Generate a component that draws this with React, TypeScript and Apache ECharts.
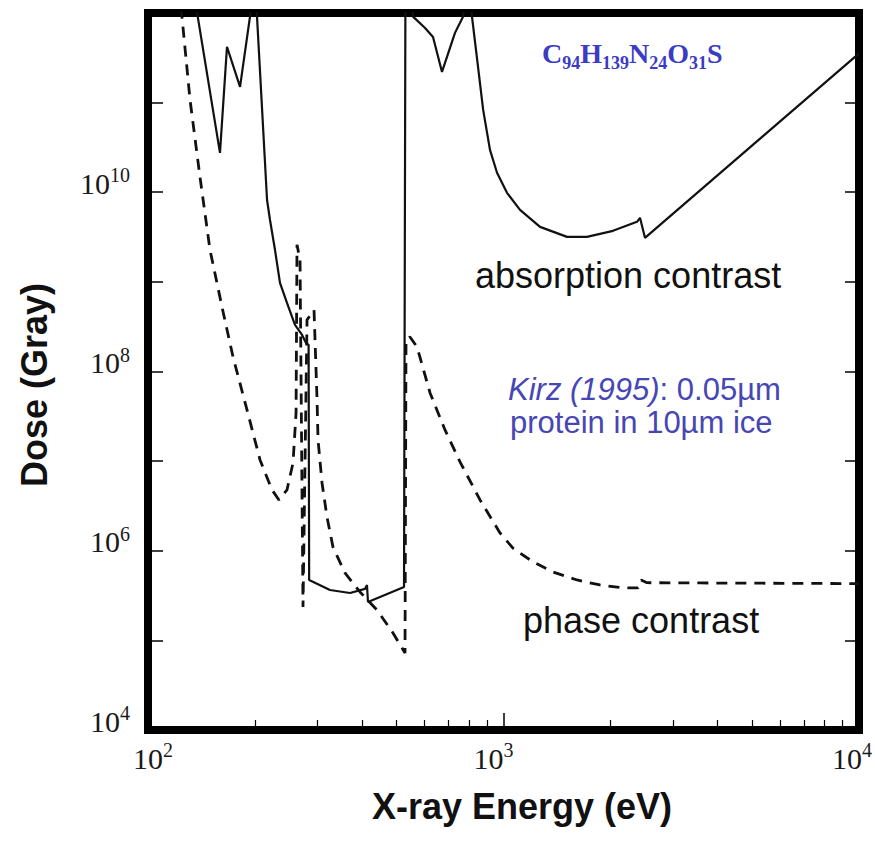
import React, { useEffect, useRef } from 'react';
import * as echarts from 'echarts';

// X-ray energy (eV) and dose (Gray)
const absorptionEnergy = [
  131, 138, 159.4, 166.8, 181.5, 193.6, 197, 200, 202.6, 216.2, 220.4, 227.6, 235.1, 246.0,
  259.1, 271.3, 278.3, 283, 284, 325, 370, 407.7, 413, 415.7, 525, 530, 545, 556.6, 601.6,
  633.5, 671.4, 730.4, 769.3, 790, 800, 815.4, 847.9, 876.6, 916.2, 958.9, 1023, 1113, 1267,
  1509, 1717, 2032, 2374, 2421, 2500, 9743, 10000,
];
const absorptionDose = [
  3.0e12, 9.1e11, 2.75e10, 4.2e11, 1.5e11, 9.1e11, 3.0e12, 3.0e12, 9.1e11, 8.2e9, 4.9e9, 2.28e9, 9.75e8, 5.83e8,
  3.31e8, 2.56e8, 2.08e8, 1.98e8, 4.72e5, 3.65e5, 3.38e5, 3.75e5, 4.15e5, 2.68e5, 3.94e5, 3.0e12, 3.0e12, 9.1e11, 6.8e11,
  5.4e11, 2.2e11, 6.0e11, 9.1e11, 3.0e12, 3.0e12, 9.1e11, 2.51e11, 8.3e10, 2.97e10, 1.65e10, 9.85e9, 6.36e9, 4.11e9,
  3.18e9, 3.18e9, 3.71e9, 4.68e9, 5.18e9, 3.10e9, 3.24e11, 3.5e11,
];

const phaseEnergy = [
  119, 124.6, 131.3, 140.0, 149.4, 161.5, 173.4, 189.9, 206.6, 223.3, 233.6, 246.0, 255.8, 260.9,
  262.5, 267.7, 272.9, 280.1, 293.1, 298.9, 300.8, 308.7, 318.8, 331.4, 358.2, 394.8, 440.8, 488.9,
  528.4, 531.8, 545.8, 571.1, 621.4, 684.6, 754.6, 859.0, 977.6, 1063, 1211, 1378, 1610, 1868, 2168,
  2389, 2437, 2533, 3570, 10000,
];
const phaseDose = [
  3.0e12, 9.1e11, 1.07e11, 1.49e10, 2.28e9, 5.26e8, 1.46e8, 3.73e7, 1.03e7, 4.77e6, 3.69e6, 4.77e6, 9.55e6, 3.45e7,
  2.59e9, 1.76e9, 2.36e5, 3.77e8, 4.87e8, 4.82e7, 1.73e7, 5.71e6, 2.38e6, 1.10e6, 5.65e5, 3.47e5, 2.18e5, 1.21e5,
  7.23e4, 2.25e8, 2.43e8, 1.88e8, 5.77e7, 2.23e7, 9.8e6, 3.69e6, 1.58e6, 1.07e6, 7.5e5, 5.8e5, 4.72e5, 4.15e5, 3.85e5,
  3.85e5, 4.72e5, 4.4e5, 4.37e5, 4.3e5,
];

const xMinorTicks = [200, 300, 400, 500, 600, 700, 800, 900, 2000, 3000, 4000, 5000, 6000, 7000, 8000, 9000];
const yLabelExponents = [4, 6, 8, 10];

const xTitle = 'X-ray Energy (eV)';
const yTitle = 'Dose (Gray)';
const absorptionLabel = 'absorption contrast';
const phaseLabel = 'phase contrast';
const noteLine1Italic = 'Kirz (1995)';
const noteLine1Rest = ': 0.05µm';
const noteLine2 = 'protein in 10µm ice';
const formulaParts: [string, string][] = [['C', '94'], ['H', '139'], ['N', '24'], ['O', '31'], ['S', '']];

const SERIF = 'Liberation Serif';
const SANS = 'Liberation Sans';
const BLUE = '#3b3bc4';
const NOTE_BLUE = '#4646b4';

const supRich = {
  b: { fontFamily: SERIF, fontSize: 30, lineHeight: 30, color: '#1a1a1a', verticalAlign: 'top', padding: [3, 0, 0, 0] },
  s: { fontFamily: SERIF, fontSize: 20, lineHeight: 20, color: '#1a1a1a', verticalAlign: 'top' },
  l10: { fontSize: 10, width: 10, lineHeight: 20, verticalAlign: 'top' },
  r20: { fontSize: 10, width: 20, lineHeight: 20, verticalAlign: 'top' },
  r14: { fontSize: 10, width: 14, lineHeight: 20, verticalAlign: 'top' },
};

export default function App() {
  const ref = useRef<HTMLDivElement>(null);
  useEffect(() => {
    if (!ref.current) return;
    const chart = echarts.init(ref.current, undefined, { renderer: 'svg' });
    const formulaText = formulaParts.map(([el, sub]) => `{b|${el}}` + (sub ? `{s|${sub}}` : '')).join('');
    const option: any = {
      animation: false,
      backgroundColor: '#ffffff',
      grid: {
        left: 148, right: 16, top: 13, bottom: 111,
        outerBoundsMode: 'none', containLabel: false,
        show: true, borderColor: '#000', borderWidth: 8, backgroundColor: 'transparent',
      },
      xAxis: [
        {
          type: 'log', logBase: 10, min: 100, max: 10000, position: 'bottom',
          axisLine: { show: false },
          axisTick: { show: true, inside: true, length: 17, lineStyle: { color: '#000', width: 1.5 } },
          splitLine: { show: false },
          axisLabel: {
            show: true, margin: 10, interval: 0, hideOverlap: false,
            formatter: (v: number) => {
              const e = Math.round(Math.log10(v));
              if (e === 2) return `{l10| }{b|10}{s|${e}}`;
              if (e === 3) return `{b|10}{s|${e}}{r20| }`;
              if (e === 4) return `{b|10}{s|${e}}{r14| }`;
              return '';
            },
            rich: supRich,
          },
          name: xTitle, nameLocation: 'middle', nameGap: 58,
          nameTextStyle: { fontFamily: SANS, fontWeight: 'bold', fontSize: 36, color: '#111', padding: [0, 0, 0, 37] },
        },
        {
          type: 'log', logBase: 10, min: 100, max: 10000, position: 'bottom',
          axisLine: { show: false },
          axisTick: { show: true, inside: true, length: 10, customValues: xMinorTicks, lineStyle: { color: '#000', width: 1.2 } },
          axisLabel: { show: false },
          splitLine: { show: false },
        },
      ],
      yAxis: [
        {
          type: 'log', logBase: 10, min: 1e4, max: 1e12, position: 'left',
          axisLine: { show: false },
          axisTick: { show: true, inside: true, length: 15, lineStyle: { color: '#000', width: 1.5 } },
          splitLine: { show: false },
          axisLabel: {
            show: true, margin: 18, interval: 0, hideOverlap: false, padding: [0, 0, 24, 0],
            formatter: (v: number) => {
              const e = Math.round(Math.log10(v));
              return yLabelExponents.includes(e) ? `{b|10}{s|${e}}` : '';
            },
            rich: supRich,
          },
          name: yTitle, nameLocation: 'middle', nameGap: 96,
          nameTextStyle: { fontFamily: SANS, fontWeight: 'bold', fontSize: 36, color: '#111', padding: [0, 27, 0, 0] },
        },
        {
          type: 'log', logBase: 10, min: 1e4, max: 1e12, position: 'right',
          axisLine: { show: false },
          axisTick: { show: true, inside: true, length: 14, lineStyle: { color: '#000', width: 1.5 } },
          axisLabel: { show: false },
          splitLine: { show: false },
        },
      ],
      series: [
        {
          name: absorptionLabel, type: 'line', xAxisIndex: 0, yAxisIndex: 0,
          data: absorptionEnergy.map((e, i) => [e, absorptionDose[i]]),
          showSymbol: false, symbol: 'none', clip: true,
          lineStyle: { color: '#111', width: 2.2, type: 'solid' },
        },
        {
          name: phaseLabel, type: 'line', xAxisIndex: 0, yAxisIndex: 0,
          data: phaseEnergy.map((e, i) => [e, phaseDose[i]]),
          showSymbol: false, symbol: 'none', clip: true,
          lineStyle: { color: '#111', width: 2.8, type: [11, 8] },
        },
      ],
      graphic: [
        {
          type: 'text', x: 542, y: 39.5, z: 10,
          style: {
            text: formulaText, align: 'left', verticalAlign: 'top',
            rich: {
              b: { fontFamily: SERIF, fontWeight: 'bold', fontSize: 28, lineHeight: 28, fill: BLUE, verticalAlign: 'top' },
              s: { fontFamily: SERIF, fontWeight: 'bold', fontSize: 18, lineHeight: 18, fill: BLUE, verticalAlign: 'top', padding: [14, 0, 0, 0] },
            },
          },
        },
        {
          type: 'text', x: 475, y: 275.5, z: 10,
          style: { text: absorptionLabel, fontFamily: SANS, fontSize: 36, fill: '#111', align: 'left', verticalAlign: 'middle' },
        },
        {
          type: 'text', x: 523, y: 620.5, z: 10,
          style: { text: phaseLabel, fontFamily: SANS, fontSize: 36, fill: '#111', align: 'left', verticalAlign: 'middle' },
        },
        {
          type: 'text', x: 508, y: 389.6, z: 10,
          style: {
            text: `{i|${noteLine1Italic}}{r|${noteLine1Rest}}`, align: 'left', verticalAlign: 'middle',
            rich: {
              i: { fontFamily: SANS, fontStyle: 'italic', fontSize: 31, fill: NOTE_BLUE },
              r: { fontFamily: SANS, fontSize: 31, fill: NOTE_BLUE },
            },
          },
        },
        {
          type: 'text', x: 510, y: 422.6, z: 10,
          style: { text: noteLine2, fontFamily: SANS, fontSize: 31, fill: NOTE_BLUE, align: 'left', verticalAlign: 'middle' },
        },
      ],
    };
    chart.setOption(option);
    return () => chart.dispose();
  }, []);
  return <div ref={ref} style={{ position: 'fixed', left: 0, top: 0, width: 875, height: 841, background: '#fff' }} />;
}
